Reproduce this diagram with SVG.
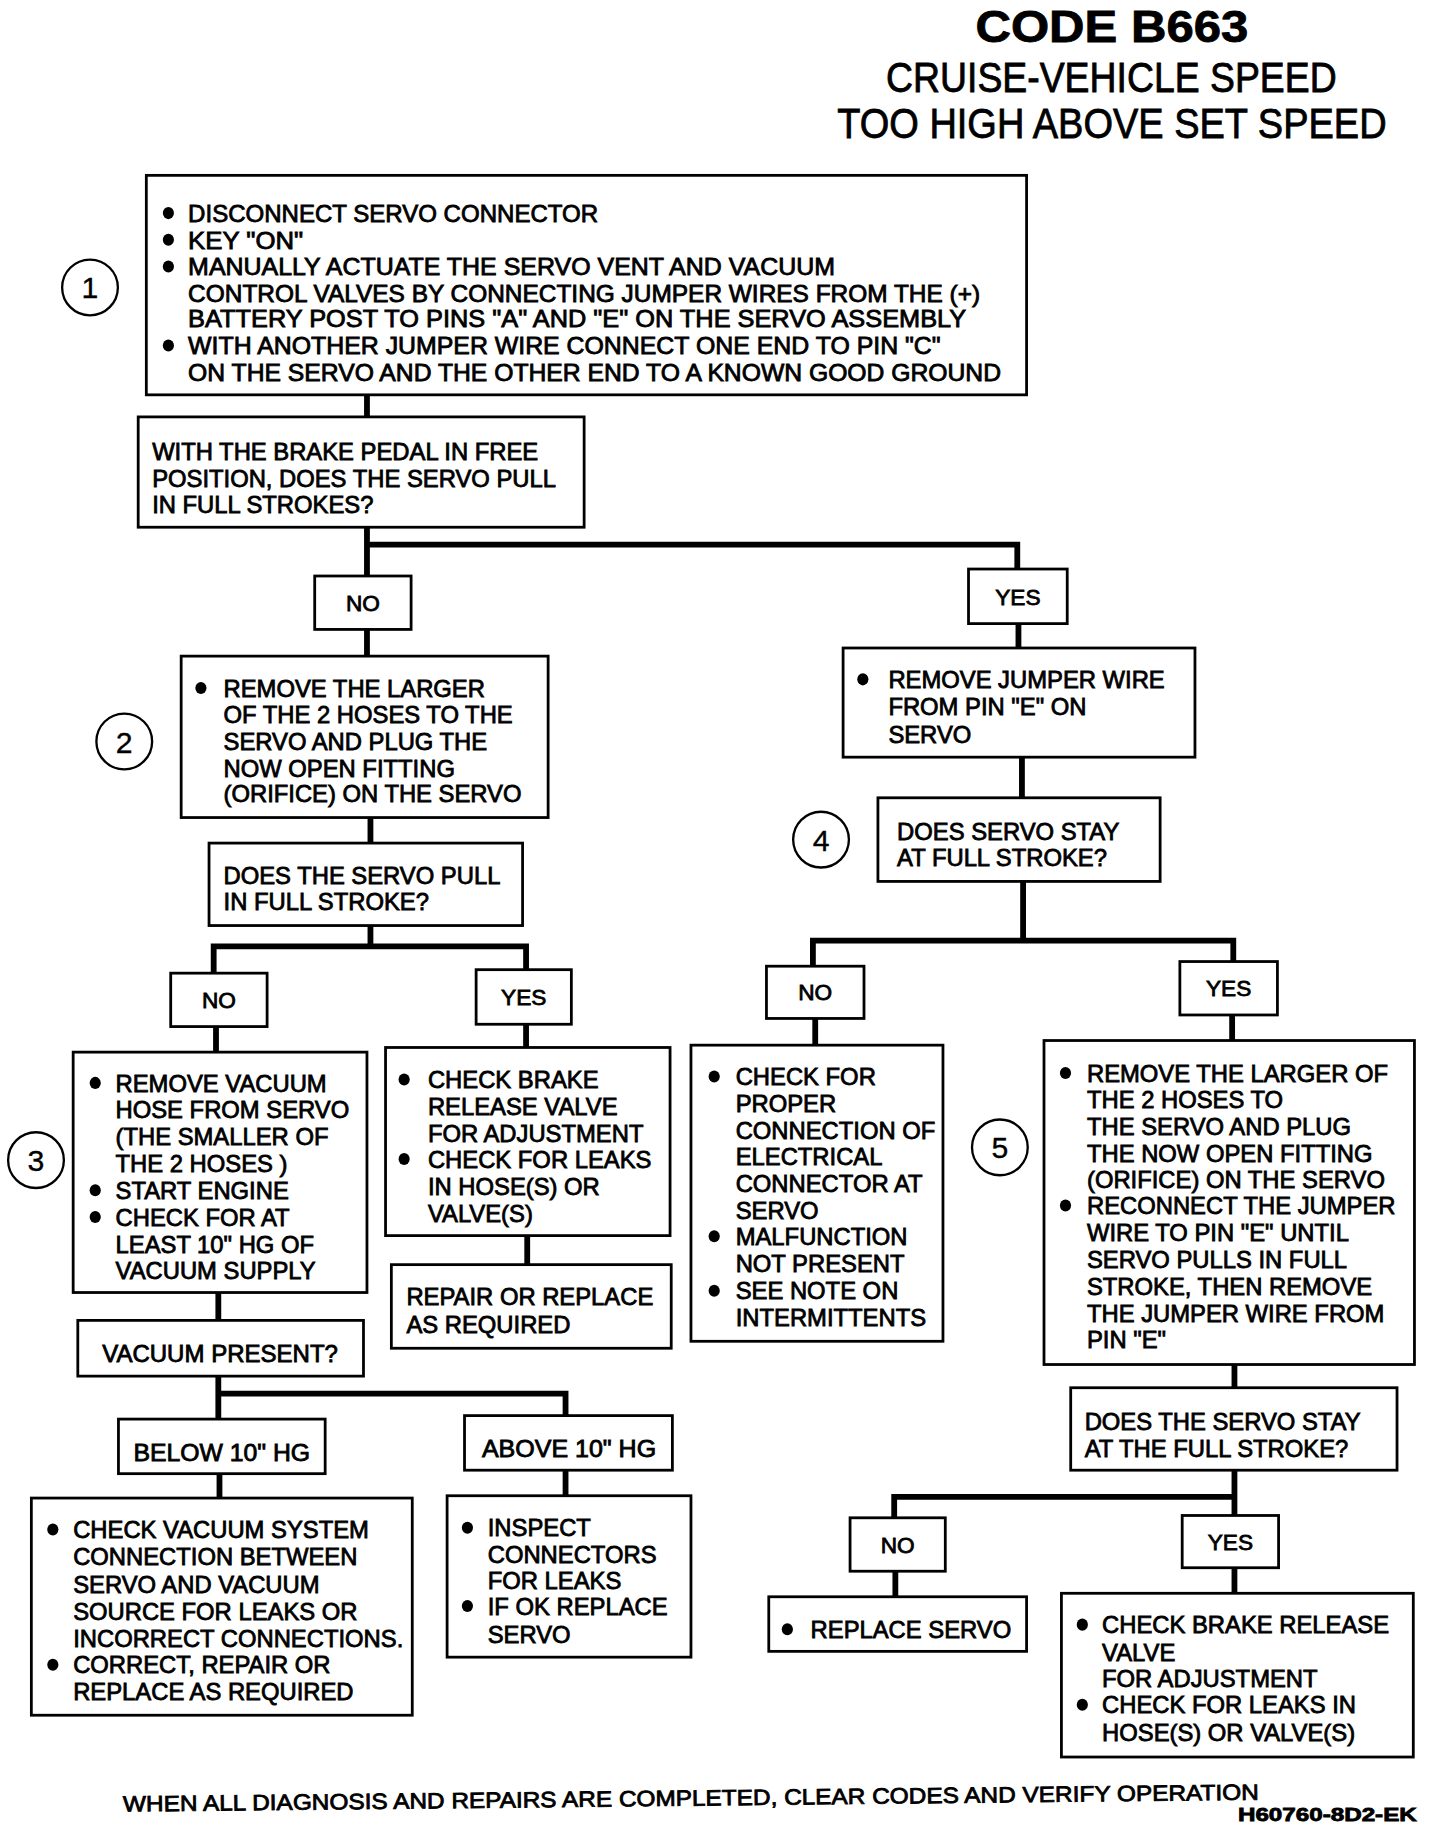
<svg xmlns="http://www.w3.org/2000/svg" width="1440" height="1830" viewBox="0 0 1440 1830">
<defs>
<style>
.box{fill:#fff;stroke:#000;stroke-width:2.4}
.conn{stroke:#000;stroke-width:5;fill:none;stroke-linejoin:miter;stroke-linecap:butt}
text{font-family:"Liberation Sans",Arial,Helvetica,sans-serif;fill:#000;stroke:#000;stroke-width:0.7}
.t{font-size:20.5px}
.lbl{font-size:19.5px;text-anchor:middle}
.num{font-size:26px;text-anchor:middle;stroke-width:0.3}
.circ{fill:#fff;stroke:#000;stroke-width:2}
.dot{fill:#000}
</style>
</defs>
<rect width="1440" height="1830" fill="#fff"/>
<g transform="scale(1.16129)">
<g id="title">
<text x="840" y="36" font-size="39" font-weight="bold" textLength="235" lengthAdjust="spacingAndGlyphs">CODE B663</text>
<text x="763" y="79" font-size="36" textLength="388" lengthAdjust="spacingAndGlyphs">CRUISE-VEHICLE SPEED</text>
<text x="721" y="119" font-size="36" textLength="473" lengthAdjust="spacingAndGlyphs">TOO HIGH ABOVE SET SPEED</text>
</g>
<g id="connectors">
<path class="conn" d="M316 340 V359"/>
<path class="conn" d="M316 454 V496 M316 469 H876 V490"/>
<path class="conn" d="M316 542 V565"/>
<path class="conn" d="M877 537 V558"/>
<path class="conn" d="M319 704 V726"/>
<path class="conn" d="M319 797 V815 M184 838 V815 H453 V835"/>
<path class="conn" d="M186 884 V906"/>
<path class="conn" d="M453 882 V902"/>
<path class="conn" d="M454 1064 V1089"/>
<path class="conn" d="M188 1113 V1137"/>
<path class="conn" d="M188 1185 V1222 M188 1200 H487 V1219"/>
<path class="conn" d="M189 1269 V1290"/>
<path class="conn" d="M487 1266 V1288"/>
<path class="conn" d="M880 652 V687"/>
<path class="conn" d="M881 759 V810 M700 832 V810 H1062 V828"/>
<path class="conn" d="M702 877 V900"/>
<path class="conn" d="M1061 874 V896"/>
<path class="conn" d="M1063 1175 V1195"/>
<path class="conn" d="M1063 1266 V1305 M770 1307 V1289 H1063"/>
<path class="conn" d="M771 1353 V1375"/>
<path class="conn" d="M1063 1350 V1372"/>
</g>
<g id="step1">
<circle class="circ" cx="77.5" cy="247.5" r="24"/>
<text class="num" x="77.5" y="257">1</text>
</g>
<g id="box1">
<rect class="box" x="126" y="151" width="758" height="189"/>
<ellipse class="dot" cx="145" cy="183.5" rx="4.8" ry="5.2"/>
<ellipse class="dot" cx="145" cy="206.5" rx="4.8" ry="5.2"/>
<ellipse class="dot" cx="145" cy="229.5" rx="4.8" ry="5.2"/>
<ellipse class="dot" cx="145" cy="297.5" rx="4.8" ry="5.2"/>
<text class="t" x="162" y="191" textLength="353" lengthAdjust="spacingAndGlyphs">DISCONNECT SERVO CONNECTOR</text>
<text class="t" x="162" y="214" textLength="99" lengthAdjust="spacingAndGlyphs">KEY "ON"</text>
<text class="t" x="162" y="237" textLength="557" lengthAdjust="spacingAndGlyphs">MANUALLY ACTUATE THE SERVO VENT AND VACUUM</text>
<text class="t" x="162" y="260" textLength="682" lengthAdjust="spacingAndGlyphs">CONTROL VALVES BY CONNECTING JUMPER WIRES FROM THE (+)</text>
<text class="t" x="162" y="282" textLength="670" lengthAdjust="spacingAndGlyphs">BATTERY POST TO PINS "A" AND "E" ON THE SERVO ASSEMBLY</text>
<text class="t" x="162" y="305" textLength="648" lengthAdjust="spacingAndGlyphs">WITH ANOTHER JUMPER WIRE CONNECT ONE END TO PIN  "C"</text>
<text class="t" x="162" y="328" textLength="700" lengthAdjust="spacingAndGlyphs">ON THE SERVO AND THE OTHER END TO A KNOWN GOOD GROUND</text>
</g>
<g id="q1">
<rect class="box" x="119" y="359" width="384" height="95"/>
<text class="t" x="131" y="396">WITH THE BRAKE PEDAL IN FREE</text>
<text class="t" x="131" y="419">POSITION, DOES THE SERVO PULL</text>
<text class="t" x="131" y="442">IN FULL STROKES?</text>
</g>
<g id="no1">
<rect class="box" x="271" y="496" width="83" height="46"/>
<text class="lbl" x="312.5" y="526">NO</text>
</g>
<g id="yes1">
<rect class="box" x="834" y="490" width="85" height="47"/>
<text class="lbl" x="876.5" y="521">YES</text>
</g>
<g id="step2">
<circle class="circ" cx="107" cy="638.5" r="24"/>
<text class="num" x="107" y="648">2</text>
</g>
<g id="box2">
<rect class="box" x="156" y="565" width="316" height="139"/>
<ellipse class="dot" cx="173" cy="592.5" rx="4.8" ry="5.2"/>
<text class="t" x="192.5" y="600">REMOVE THE LARGER</text>
<text class="t" x="192.5" y="623">OF THE 2 HOSES TO THE</text>
<text class="t" x="192.5" y="646">SERVO AND PLUG THE</text>
<text class="t" x="192.5" y="669">NOW OPEN FITTING</text>
<text class="t" x="192.5" y="691">(ORIFICE) ON THE SERVO</text>
</g>
<g id="q2">
<rect class="box" x="180" y="726" width="270" height="71"/>
<text class="t" x="192.5" y="761">DOES THE SERVO PULL</text>
<text class="t" x="192.5" y="784">IN FULL STROKE?</text>
</g>
<g id="no2">
<rect class="box" x="147" y="838" width="83" height="46"/>
<text class="lbl" x="188.5" y="868">NO</text>
</g>
<g id="yes2">
<rect class="box" x="410" y="835" width="82" height="47"/>
<text class="lbl" x="451" y="865">YES</text>
</g>
<g id="step3">
<circle class="circ" cx="31" cy="999" r="24"/>
<text class="num" x="31" y="1008.5">3</text>
</g>
<g id="box3">
<rect class="box" x="63" y="906" width="253" height="207"/>
<ellipse class="dot" cx="82" cy="932.5" rx="4.8" ry="5.2"/>
<ellipse class="dot" cx="82" cy="1025" rx="4.8" ry="5.2"/>
<ellipse class="dot" cx="82" cy="1048" rx="4.8" ry="5.2"/>
<text class="t" x="99.5" y="940">REMOVE VACUUM</text>
<text class="t" x="99.5" y="963">HOSE FROM SERVO</text>
<text class="t" x="99.5" y="986">(THE SMALLER OF</text>
<text class="t" x="99.5" y="1009">THE 2 HOSES )</text>
<text class="t" x="99.5" y="1032.5">START ENGINE</text>
<text class="t" x="99.5" y="1055.5">CHECK FOR AT</text>
<text class="t" x="99.5" y="1079">LEAST 10" HG OF</text>
<text class="t" x="99.5" y="1101.5">VACUUM SUPPLY</text>
</g>
<g id="checkBrake">
<rect class="box" x="332" y="902" width="245" height="162"/>
<ellipse class="dot" cx="348" cy="929.5" rx="4.8" ry="5.2"/>
<ellipse class="dot" cx="348" cy="998" rx="4.8" ry="5.2"/>
<text class="t" x="368.5" y="937">CHECK BRAKE</text>
<text class="t" x="368.5" y="960">RELEASE VALVE</text>
<text class="t" x="368.5" y="983">FOR ADJUSTMENT</text>
<text class="t" x="368.5" y="1005.5">CHECK FOR LEAKS</text>
<text class="t" x="368.5" y="1029">IN  HOSE(S) OR</text>
<text class="t" x="368.5" y="1052">VALVE(S)</text>
</g>
<g id="repair">
<rect class="box" x="337" y="1089" width="241" height="72"/>
<text class="t" x="350" y="1124">REPAIR OR REPLACE</text>
<text class="t" x="350" y="1147.5">AS REQUIRED</text>
</g>
<g id="vacPresent">
<rect class="box" x="67" y="1137" width="246" height="48"/>
<text class="t" x="88" y="1172.5" textLength="203" lengthAdjust="spacingAndGlyphs">VACUUM PRESENT?</text>
</g>
<g id="below">
<rect class="box" x="102" y="1222" width="178" height="47"/>
<text class="t" x="115" y="1258" textLength="152" lengthAdjust="spacingAndGlyphs">BELOW 10" HG</text>
</g>
<g id="above">
<rect class="box" x="400" y="1219" width="179" height="47"/>
<text class="t" x="415" y="1254.5" textLength="150" lengthAdjust="spacingAndGlyphs">ABOVE 10" HG</text>
</g>
<g id="checkVacuum">
<rect class="box" x="27" y="1290" width="328" height="187"/>
<ellipse class="dot" cx="45.5" cy="1317" rx="4.8" ry="5.2"/>
<ellipse class="dot" cx="45.5" cy="1433.5" rx="4.8" ry="5.2"/>
<text class="t" x="63" y="1324.5">CHECK VACUUM SYSTEM</text>
<text class="t" x="63" y="1347.5">CONNECTION BETWEEN</text>
<text class="t" x="63" y="1371.5">SERVO AND VACUUM</text>
<text class="t" x="63" y="1395">SOURCE FOR LEAKS OR</text>
<text class="t" x="63" y="1418.5">INCORRECT CONNECTIONS.</text>
<text class="t" x="63" y="1441">CORRECT, REPAIR OR</text>
<text class="t" x="63" y="1464">REPLACE AS REQUIRED</text>
</g>
<g id="inspect">
<rect class="box" x="385" y="1288" width="210" height="139"/>
<ellipse class="dot" cx="402.5" cy="1315.5" rx="4.8" ry="5.2"/>
<ellipse class="dot" cx="402.5" cy="1383" rx="4.8" ry="5.2"/>
<text class="t" x="420" y="1323">INSPECT</text>
<text class="t" x="420" y="1345.5">CONNECTORS</text>
<text class="t" x="420" y="1368.5">FOR LEAKS</text>
<text class="t" x="420" y="1390.5">IF OK REPLACE</text>
<text class="t" x="420" y="1414.5">SERVO</text>
</g>
<g id="removeJumper">
<rect class="box" x="726" y="558" width="303" height="94"/>
<ellipse class="dot" cx="743" cy="585" rx="4.8" ry="5.2"/>
<text class="t" x="765" y="592.5">REMOVE JUMPER WIRE</text>
<text class="t" x="765" y="615.5">FROM PIN "E" ON</text>
<text class="t" x="765" y="639.5">SERVO</text>
</g>
<g id="step4">
<circle class="circ" cx="707" cy="723" r="24"/>
<text class="num" x="707" y="732.5">4</text>
</g>
<g id="q4">
<rect class="box" x="756" y="687" width="243" height="72"/>
<text class="t" x="772.5" y="723">DOES  SERVO STAY</text>
<text class="t" x="772.5" y="746">AT FULL STROKE?</text>
</g>
<g id="no4">
<rect class="box" x="660" y="832" width="84" height="45"/>
<text class="lbl" x="702" y="861.5">NO</text>
</g>
<g id="yes4">
<rect class="box" x="1016" y="828" width="84" height="46"/>
<text class="lbl" x="1058" y="858">YES</text>
</g>
<g id="checkProper">
<rect class="box" x="595" y="900" width="217" height="255"/>
<ellipse class="dot" cx="615" cy="927" rx="4.8" ry="5.2"/>
<ellipse class="dot" cx="615" cy="1064.5" rx="4.8" ry="5.2"/>
<ellipse class="dot" cx="615" cy="1111.5" rx="4.8" ry="5.2"/>
<text class="t" x="633.5" y="934.5">CHECK FOR</text>
<text class="t" x="633.5" y="957.5">PROPER</text>
<text class="t" x="633.5" y="980.5">CONNECTION OF</text>
<text class="t" x="633.5" y="1003.5">ELECTRICAL</text>
<text class="t" x="633.5" y="1026.5">CONNECTOR AT</text>
<text class="t" x="633.5" y="1049.5">SERVO</text>
<text class="t" x="633.5" y="1072">MALFUNCTION</text>
<text class="t" x="633.5" y="1095.5">NOT PRESENT</text>
<text class="t" x="633.5" y="1119">SEE NOTE ON</text>
<text class="t" x="633.5" y="1142">INTERMITTENTS</text>
</g>
<g id="step5">
<circle class="circ" cx="861" cy="988" r="24"/>
<text class="num" x="861" y="997.5">5</text>
</g>
<g id="box5">
<rect class="box" x="899" y="896" width="319" height="279"/>
<ellipse class="dot" cx="917.5" cy="924" rx="4.8" ry="5.2"/>
<ellipse class="dot" cx="917.5" cy="1038" rx="4.8" ry="5.2"/>
<text class="t" x="936" y="931.5">REMOVE THE LARGER OF</text>
<text class="t" x="936" y="954.5">THE 2 HOSES TO</text>
<text class="t" x="936" y="977.5">THE SERVO AND PLUG</text>
<text class="t" x="936" y="1000.5">THE NOW OPEN FITTING</text>
<text class="t" x="936" y="1023">(ORIFICE) ON THE SERVO</text>
<text class="t" x="936" y="1045.5">RECONNECT THE JUMPER</text>
<text class="t" x="936" y="1069">WIRE TO PIN "E" UNTIL</text>
<text class="t" x="936" y="1092">SERVO PULLS IN FULL</text>
<text class="t" x="936" y="1115">STROKE, THEN REMOVE</text>
<text class="t" x="936" y="1138">THE JUMPER WIRE FROM</text>
<text class="t" x="936" y="1161">PIN "E"</text>
</g>
<g id="q5">
<rect class="box" x="922" y="1195" width="281" height="71"/>
<text class="t" x="934" y="1231.5">DOES THE SERVO STAY</text>
<text class="t" x="934" y="1254.5">AT THE FULL STROKE?</text>
</g>
<g id="no5">
<rect class="box" x="732" y="1307" width="82" height="46"/>
<text class="lbl" x="773" y="1337">NO</text>
</g>
<g id="yes5">
<rect class="box" x="1018" y="1305" width="83" height="45"/>
<text class="lbl" x="1059.5" y="1334.5">YES</text>
</g>
<g id="replaceServo">
<rect class="box" x="662" y="1375" width="222" height="47"/>
<ellipse class="dot" cx="678" cy="1403" rx="4.8" ry="5.2"/>
<text class="t" x="698" y="1410.5">REPLACE SERVO</text>
</g>
<g id="checkBrakeRelease">
<rect class="box" x="914" y="1372" width="303" height="141"/>
<ellipse class="dot" cx="932" cy="1399" rx="4.8" ry="5.2"/>
<ellipse class="dot" cx="932" cy="1468" rx="4.8" ry="5.2"/>
<text class="t" x="949" y="1406.5">CHECK BRAKE RELEASE</text>
<text class="t" x="949" y="1430.5">VALVE</text>
<text class="t" x="949" y="1453">FOR ADJUSTMENT</text>
<text class="t" x="949" y="1475.5">CHECK FOR LEAKS IN</text>
<text class="t" x="949" y="1499">HOSE(S) OR VALVE(S)</text>
</g>
<g id="footer">
<text x="106" y="1560" font-size="19" textLength="978" lengthAdjust="spacingAndGlyphs" transform="rotate(-0.6 106 1560)">WHEN ALL DIAGNOSIS AND REPAIRS ARE COMPLETED, CLEAR CODES AND VERIFY OPERATION</text>
<text x="1066" y="1568.5" font-size="16" font-weight="bold" textLength="154" lengthAdjust="spacingAndGlyphs">H60760-8D2-EK</text>
</g>
</g>
</svg>
